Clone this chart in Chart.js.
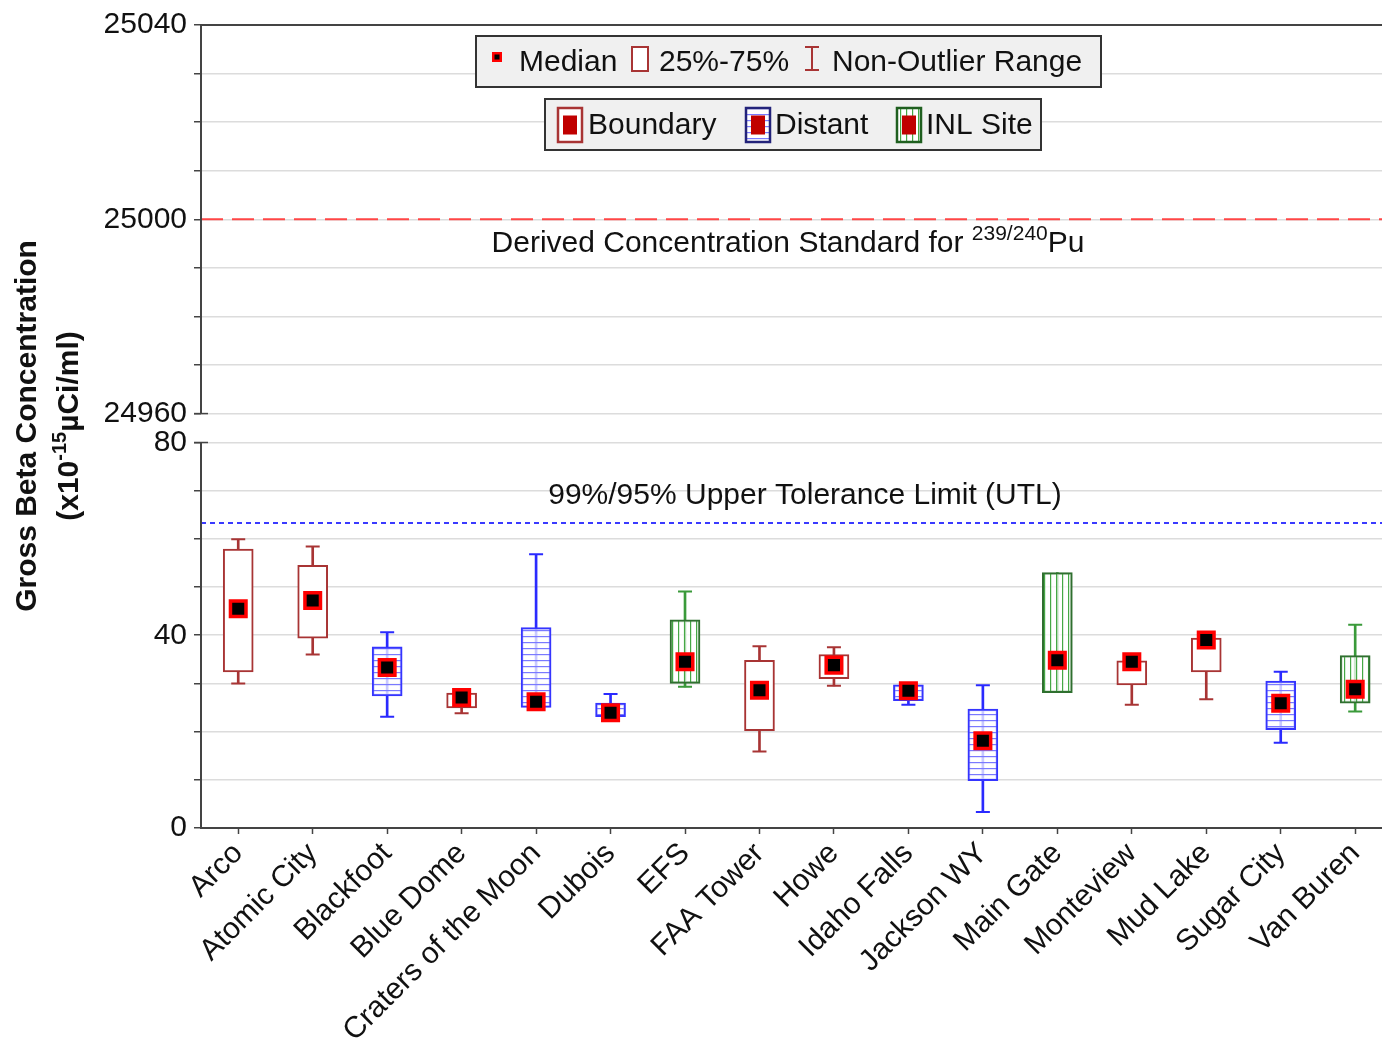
<!DOCTYPE html>
<html>
<head>
<meta charset="utf-8">
<script src="https://cdn.jsdelivr.net/npm/chart.js@4.4.1/dist/chart.umd.min.js"></script>
<style>
  html, body { margin: 0; background: #fff; overflow: hidden; }
  #wrap { width: 1382px; height: 1039px; }
</style>
</head>
<body>
<div id="wrap"><canvas id="c"></canvas></div>
<script>
// sampling sites and their group
const sites = ["Arco", "Atomic City", "Blackfoot", "Blue Dome", "Craters of the Moon", "Dubois", "EFS",
  "FAA Tower", "Howe", "Idaho Falls", "Jackson WY", "Main Gate", "Monteview", "Mud Lake", "Sugar City", "Van Buren"];
const groups = ["Boundary", "Boundary", "Distant", "Boundary", "Distant", "Distant", "INL Site",
  "Boundary", "Boundary", "Distant", "Distant", "INL Site", "Boundary", "Boundary", "Distant", "INL Site"];

// box plot values (x10^-15 uCi/ml)
const medians = [45.5, 47.2, 33.3, 27.1, 26.2, 23.9, 34.5, 28.6, 33.8, 28.5, 18.1, 34.8, 34.5, 39.0, 25.9, 28.8];
const q1 = [32.4, 39.4, 27.4, 24.9, 25.0, 23.1, 30.0, 20.2, 31.0, 26.4, 9.8, 28.1, 29.7, 32.4, 20.4, 25.9];
const q3 = [57.9, 54.5, 37.6, 28.0, 41.6, 25.9, 43.2, 34.8, 36.0, 29.7, 24.7, 53.0, 34.7, 39.4, 30.5, 35.8];
const lows = [30.0, 36.0, 23.1, 23.8, 25.0, 23.1, 29.3, 15.9, 29.5, 25.6, 3.3, 28.1, 25.6, 26.7, 17.7, 24.2];
const highs = [59.9, 58.4, 40.6, 28.0, 56.8, 27.8, 49.1, 37.7, 37.5, 29.7, 29.6, 53.0, 34.7, 39.4, 32.4, 42.2];

// reference limits
const dcsValue = 25000;
const utlValue = 63.3;

// axis ticks
const lowerTicks = [0, 10, 20, 30, 40, 50, 60, 70, 80];
const lowerLabels = [0, 40, 80];
const upperTicks = [24960, 24970, 24980, 24990, 25000, 25010, 25020, 25030, 25040];
const upperLabels = [24960, 25000, 25040];

const FONT = '"Liberation Sans", Arial, sans-serif';
const xMin = -0.5, xMax = 15.36;

function hatch(color, dir) {
  const c = document.createElement("canvas");
  c.width = 6; c.height = 6;
  const g = c.getContext("2d");
  g.fillStyle = "rgba(255,255,255,0.75)";
  g.fillRect(0, 0, 6, 6);
  g.fillStyle = color;
  if (dir === "h") g.fillRect(0, 0, 6, 1.2);
  else g.fillRect(0, 0, 1.2, 6);
  return g.createPattern(c, "repeat");
}

const style = {
  "Boundary": { edge: "#a83434", whisker: "#a83434", fill: "#ffffff", legendEdge: "#a83434" },
  "Distant": { edge: "#3535ff", whisker: "#2a2aff", fill: hatch("#7a7aff", "h"), legendEdge: "#23237a" },
  "INL Site": { edge: "#2f6f2f", whisker: "#3a9a3a", fill: hatch("#45a845", "v"), legendEdge: "#1f5f1f" }
};

const pts = arr => arr.map((v, i) => ({ x: i, y: v }));
const edgeColors = groups.map(g => style[g].edge);
const whiskerColors = groups.map(g => style[g].whisker);

const datasets = [
  {
    type: "line", label: "DCS", yAxisID: "y2", xAxisID: "x",
    data: [{ x: xMin, y: dcsValue }, { x: xMax, y: dcsValue }],
    borderColor: "#ff4646", borderWidth: 2, borderDash: [22, 9], pointRadius: 0, order: 6
  },
  {
    type: "line", label: "UTL", yAxisID: "y", xAxisID: "x",
    data: [{ x: xMin, y: utlValue }, { x: xMax, y: utlValue }],
    borderColor: "#3a3aff", borderWidth: 2, borderDash: [5, 4], pointRadius: 0, order: 6
  },
  {
    type: "bar", label: "whisker", yAxisID: "y", xAxisID: "x",
    data: sites.map((s, i) => ({ x: i, y: [lows[i], highs[i]] })),
    backgroundColor: whiskerColors, borderWidth: 0, barThickness: 2, grouped: false, order: 4
  },
  {
    type: "scatter", label: "capHigh", yAxisID: "y", xAxisID: "x",
    data: pts(highs),
    pointStyle: "line", pointBorderWidth: 2, pointBorderColor: whiskerColors,
    pointRadius: c => (highs[c.dataIndex] > q3[c.dataIndex] ? 7 : 0), order: 3
  },
  {
    type: "scatter", label: "capLow", yAxisID: "y", xAxisID: "x",
    data: pts(lows),
    pointStyle: "line", pointBorderWidth: 2, pointBorderColor: whiskerColors,
    pointRadius: c => (lows[c.dataIndex] < q1[c.dataIndex] ? 7 : 0), order: 3
  },
  {
    type: "bar", label: "box", yAxisID: "y", xAxisID: "x",
    data: sites.map((s, i) => ({ x: i, y: [q1[i], q3[i]] })),
    backgroundColor: groups.map(g => style[g].fill), borderColor: edgeColors,
    borderWidth: 2, borderSkipped: false, barThickness: 30, grouped: false, order: 2
  },
  {
    type: "scatter", label: "median", yAxisID: "y", xAxisID: "x",
    data: pts(medians),
    pointStyle: "rect", pointRadius: 11, pointBorderWidth: 3.5,
    pointBorderColor: "#ff0000", pointBackgroundColor: "#000000", order: 1
  }
];

const tickFont = { family: FONT, size: 30 };

function yScale(ticksArr, labels, min, max, weight, stackWeight) {
  return {
    type: "linear", position: "left", stack: "v", stackWeight: stackWeight, weight: weight,
    min: min, max: max,
    afterBuildTicks: s => { s.ticks = ticksArr.map(v => ({ value: v })); },
    afterFit: s => { s.width = 201; },
    ticks: {
      autoSkip: false, padding: 7, color: "#111", font: tickFont,
      callback: v => (labels.includes(v) ? String(v) : "")
    },
    grid: { color: "#dcdcdc", lineWidth: 1.5, tickColor: "#444", tickLength: 7, tickWidth: 1.5 },
    border: { display: false }
  };
}

function line(ctx, x1, y1, x2, y2) {
  ctx.beginPath(); ctx.moveTo(x1, y1); ctx.lineTo(x2, y2); ctx.stroke();
}

const decor = {
  id: "decor",
  afterDraw(chart) {
    const { ctx, chartArea: a } = chart;
    const y = chart.scales.y, y2 = chart.scales.y2;
    ctx.save();

    // axis lines with the break
    ctx.strokeStyle = "#444";
    ctx.lineWidth = 2;
    const yLowTop = y.getPixelForValue(80), yUpBot = y2.getPixelForValue(24960);
    line(ctx, a.left, y.getPixelForValue(0), a.left, yLowTop);
    line(ctx, a.left, yUpBot, a.left, a.top);
    line(ctx, a.left - 1, a.top, a.right, a.top);
    ctx.lineWidth = 1.5;
    line(ctx, a.left - 7, yLowTop, a.left + 7, yLowTop);
    line(ctx, a.left - 7, yUpBot, a.left + 7, yUpBot);

    ctx.fillStyle = "#111";
    ctx.textBaseline = "alphabetic";

    // DCS note
    const mainF = "30px " + FONT, supF = "21px " + FONT;
    const p1 = "Derived Concentration Standard for ", p2 = "239/240", p3 = "Pu";
    ctx.font = mainF; const w1 = ctx.measureText(p1).width, w3 = ctx.measureText(p3).width;
    ctx.font = supF; const w2 = ctx.measureText(p2).width;
    let tx = 788 - (w1 + w2 + w3) / 2;
    const ty = y2.getPixelForValue(dcsValue) + 33;
    ctx.textAlign = "left";
    ctx.font = mainF; ctx.fillText(p1, tx, ty);
    ctx.font = supF; ctx.fillText(p2, tx + w1, ty - 12);
    ctx.font = mainF; ctx.fillText(p3, tx + w1 + w2, ty);

    // UTL note
    ctx.textAlign = "center";
    ctx.fillText("99%/95% Upper Tolerance Limit (UTL)", 805, y.getPixelForValue(utlValue) - 19);

    // legend 1
    ctx.fillStyle = "#f0f0f0"; ctx.strokeStyle = "#333"; ctx.lineWidth = 2;
    ctx.fillRect(476, 36, 625, 51); ctx.strokeRect(476, 36, 625, 51);
    ctx.fillStyle = "#ff0000"; ctx.fillRect(492, 52, 10, 10);
    ctx.fillStyle = "#000"; ctx.fillRect(494.5, 54.5, 5, 5);
    ctx.fillStyle = "#fff"; ctx.fillRect(632, 47, 16, 24);
    ctx.strokeStyle = style.Boundary.edge; ctx.strokeRect(632, 47, 16, 24);
    line(ctx, 812, 47, 812, 70); line(ctx, 805, 47, 819, 47); line(ctx, 805, 70, 819, 70);
    ctx.fillStyle = "#111"; ctx.font = mainF; ctx.textAlign = "left"; ctx.textBaseline = "middle";
    ctx.fillText("Median", 519, 63);
    ctx.fillText("25%-75%", 659, 63);
    ctx.fillText("Non-Outlier Range", 832, 63);

    // legend 2
    ctx.fillStyle = "#f0f0f0"; ctx.strokeStyle = "#333";
    ctx.fillRect(545, 99, 496, 51); ctx.strokeRect(545, 99, 496, 51);
    const icons = [["Boundary", 558, 588], ["Distant", 746, 775], ["INL Site", 897, 926]];
    icons.forEach(([g, ix, lx]) => {
      ctx.fillStyle = "#fff"; ctx.fillRect(ix, 108, 24, 34);
      ctx.fillStyle = style[g].fill; ctx.fillRect(ix, 108, 24, 34);
      ctx.lineWidth = 2.5; ctx.strokeStyle = style[g].legendEdge; ctx.strokeRect(ix, 108, 24, 34);
      ctx.fillStyle = "#c00000"; ctx.fillRect(ix + 5, 115.5, 14, 19);
      ctx.fillStyle = "#111"; ctx.fillText(g, lx, 126);
    });

    // y axis title
    ctx.save();
    ctx.translate(28, 426);
    ctx.rotate(-Math.PI / 2);
    ctx.textAlign = "center"; ctx.textBaseline = "middle";
    ctx.font = "bold 30px " + FONT;
    ctx.fillText("Gross Beta Concentration", 0, 0);
    ctx.restore();

    ctx.save();
    ctx.translate(70, 426);
    ctx.rotate(-Math.PI / 2);
    ctx.textAlign = "left"; ctx.textBaseline = "middle";
    const bF = "bold 30px " + FONT, bS = "bold 20px " + FONT;
    const s1 = "(x10", s2 = "-15", s3 = "\u00b5Ci/ml)";
    ctx.font = bF; const a1 = ctx.measureText(s1).width, a3 = ctx.measureText(s3).width;
    ctx.font = bS; const a2 = ctx.measureText(s2).width;
    let sx = -(a1 + a2 + a3) / 2;
    ctx.font = bF; ctx.fillText(s1, sx, 0);
    ctx.font = bS; ctx.fillText(s2, sx + a1, -10);
    ctx.font = bF; ctx.fillText(s3, sx + a1 + a2, 0);
    ctx.restore();

    ctx.restore();
  }
};

new Chart(document.getElementById("c"), {
  type: "bar",
  data: { datasets: datasets },
  options: {
    responsive: true,
    maintainAspectRatio: false,
    animation: false,
    events: [],
    layout: { autoPadding: false, padding: { top: 20, left: 0, right: 0, bottom: 0 } },
    plugins: { legend: { display: false }, tooltip: { enabled: false } },
    scales: {
      x: {
        type: "linear", min: xMin, max: xMax, offset: false,
        afterBuildTicks: s => { s.ticks = sites.map((n, i) => ({ value: i })); },
        afterFit: s => { s.height = 211; s.paddingRight = 0; },
        ticks: {
          autoSkip: false, minRotation: 45, maxRotation: 45, padding: 2, color: "#111", font: tickFont,
          callback: v => sites[v]
        },
        grid: { offset: false, drawOnChartArea: false, tickColor: "#444", tickLength: 6, tickWidth: 1.5 },
        border: { color: "#444", width: 2 }
      },
      y: yScale(lowerTicks, lowerLabels, 0, 86, 0, 417),
      y2: yScale(upperTicks, upperLabels, 24960, 25040, 1, 391)
    }
  },
  plugins: [decor]
});
</script>
</body>
</html>
